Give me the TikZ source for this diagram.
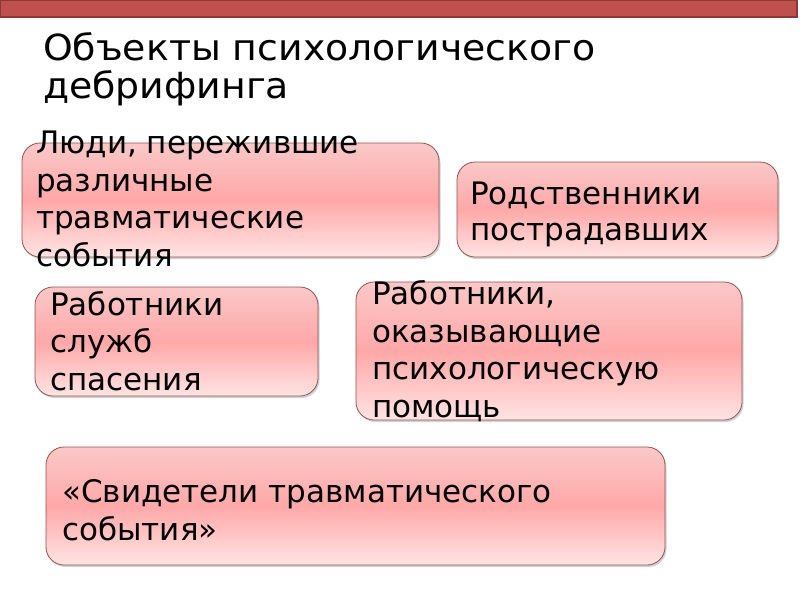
\documentclass[tikz,border=0pt]{standalone}
\usepackage{fontspec}
\setmainfont{DejaVu Sans}
\newfontfamily\titlefont[FakeStretch=1.05]{DejaVu Sans}
\usetikzlibrary{shadows}
\definecolor{barred}{RGB}{192,80,77}
\definecolor{barline}{RGB}{140,56,54}
\definecolor{pinktop}{RGB}{250,200,200}
\definecolor{pinkmid}{RGB}{255,168,168}
\definecolor{pinkbot}{RGB}{255,228,228}
\definecolor{boxline}{RGB}{150,80,80}

\begin{document}
\begin{tikzpicture}[x=1pt,y=-1pt,
    panel/.style={draw=boxline,line width=0.8pt,rounded corners=18pt,
      top color=pinktop,bottom color=pinkbot,middle color=pinkmid,
      drop shadow={shadow xshift=1.5pt,shadow yshift=-2pt,fill=black!35}},
    words/.style={anchor=base west,inner sep=0pt,align=left,
      font=\fontsize{31}{37.5}\selectfont},
    heading/.style={anchor=base west,inner sep=0pt,align=left,
      font=\titlefont\fontsize{36}{38}\selectfont}]
  \useasboundingbox (0,0) rectangle (800,600);
  % top bar
  \draw[barline,fill=barred,line width=1.5pt] (0,0) rectangle (797,17);
  % anchors are at the baseline of the last line
  \node[heading] (title) at (43,98) {Объекты психологического\\дебрифинга};
  % boxes
  \node[panel,minimum width=417,minimum height=114] (people) at (230.5,200) {};
  \node[panel,minimum width=321,minimum height=95] (kin) at (617.5,209.5) {};
  \node[panel,minimum width=283,minimum height=109] (rescue) at (176.5,341.5) {};
  \node[panel,minimum width=386,minimum height=138] (helpers) at (549,351) {};
  \node[panel,minimum width=619,minimum height=118] (witness) at (355.5,506) {};
  % texts
  \node[words] (peopletext) at (36,266) {Люди, пережившие\\различные\\травматические\\события};
  \node[words,font=\fontsize{31}{35.5}\selectfont] (kintext) at (470,240) {Родственники\\пострадавших};
  \node[words] (rescuetext) at (50,390) {Работники\\служб\\спасения};
  \node[words] (helperstext) at (372,417) {Работники,\\оказывающие\\психологическую\\помощь};
  \node[words] (witnesstext) at (62,540) {«Свидетели травматического\\события»};
\end{tikzpicture}
\end{document}
